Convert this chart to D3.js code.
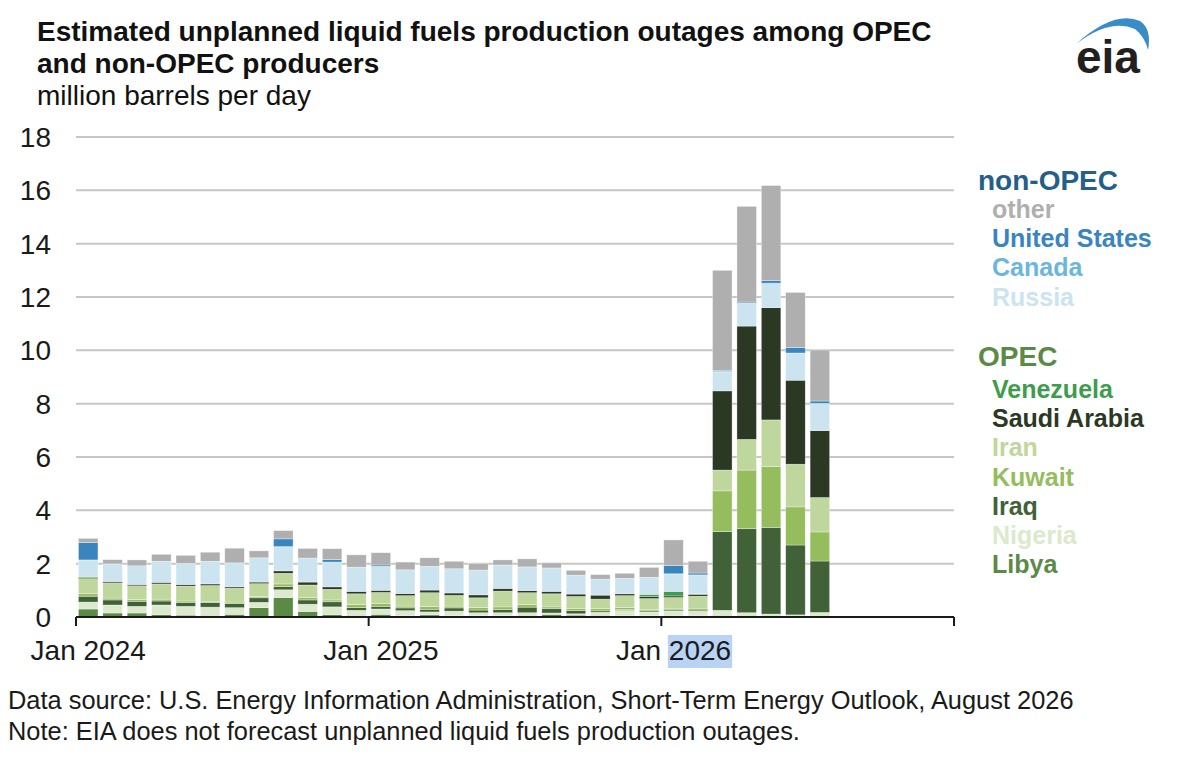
<!DOCTYPE html>
<html>
<head>
<meta charset="utf-8">
<script src="https://cdn.jsdelivr.net/npm/d3@7"></script>
<style>
  body { margin: 0; background: #fff; }
  svg { display: block; font-family: "Liberation Sans", Arial, Helvetica, sans-serif; }
</style>
</head>
<body>
<svg id="outageChart"></svg>
<script>
// monthly values, million barrels per day (Jan 2024 - Jul 2026)
const months = [
  "2024-01", "2024-02", "2024-03", "2024-04", "2024-05", "2024-06",
  "2024-07", "2024-08", "2024-09", "2024-10", "2024-11", "2024-12",
  "2025-01", "2025-02", "2025-03", "2025-04", "2025-05", "2025-06",
  "2025-07", "2025-08", "2025-09", "2025-10", "2025-11", "2025-12",
  "2026-01", "2026-02", "2026-03", "2026-04", "2026-05", "2026-06", "2026-07"
];

const libya = [0.30, 0.15, 0.15, 0.09, 0.07, 0.06, 0.10, 0.35, 0.73, 0.21, 0.09, 0.06,
  0.10, 0.05, 0.08, 0.05, 0.05, 0.05, 0.06, 0.10, 0.07, 0.06, 0.05, 0.05,
  0.04, 0.04, 0.06, 0.06, 0.06, 0.06, 0.02];
const nigeria = [0.26, 0.30, 0.25, 0.36, 0.33, 0.31, 0.25, 0.20, 0.29, 0.27, 0.29, 0.19,
  0.20, 0.19, 0.11, 0.17, 0.11, 0.11, 0.10, 0.05, 0.05, 0.12, 0.20, 0.14,
  0.19, 0.18, 0.19, 0.10, 0.05, 0.02, 0.15];
const iraq = [0.22, 0.19, 0.19, 0.15, 0.15, 0.17, 0.15, 0.17, 0.12, 0.16, 0.19, 0.10,
  0.10, 0.10, 0.10, 0.12, 0.10, 0.12, 0.21, 0.16, 0.12, 0.05, 0.03, 0.04,
  0.04, 0.04, 2.95, 3.15, 3.25, 2.62, 1.93];
const kuwait = [0.09, 0.07, 0.06, 0.07, 0.05, 0.05, 0.06, 0.04, 0.10, 0.09, 0.07, 0.11,
  0.10, 0.07, 0.10, 0.07, 0.10, 0.10, 0.09, 0.07, 0.07, 0.09, 0.07, 0.06,
  0.06, 0.07, 1.53, 2.20, 2.28, 1.43, 1.09];
const iran = [0.57, 0.57, 0.52, 0.57, 0.56, 0.59, 0.52, 0.49, 0.40, 0.47, 0.40, 0.41,
  0.42, 0.39, 0.52, 0.40, 0.36, 0.59, 0.45, 0.49, 0.46, 0.35, 0.45, 0.40,
  0.40, 0.45, 0.78, 1.15, 1.75, 1.60, 1.29];
const saudiArabia = [0.04, 0.05, 0.05, 0.06, 0.06, 0.06, 0.05, 0.06, 0.09, 0.11, 0.09, 0.09,
  0.08, 0.08, 0.10, 0.09, 0.11, 0.10, 0.08, 0.09, 0.09, 0.15, 0.07, 0.08,
  0.06, 0.07, 2.97, 4.25, 4.21, 3.15, 2.51];
const venezuela = [0.04, 0, 0, 0, 0, 0, 0, 0, 0, 0, 0, 0,
  0, 0, 0, 0, 0, 0, 0, 0, 0, 0, 0, 0.08,
  0.17, 0.02, 0, 0, 0, 0, 0];
const russia = [0.61, 0.66, 0.70, 0.79, 0.79, 0.85, 0.90, 0.91, 0.90, 0.90, 0.93, 0.91,
  0.90, 0.89, 0.89, 0.91, 0.93, 0.88, 0.89, 0.88, 0.71, 0.60, 0.58, 0.64,
  0.65, 0.71, 0.71, 0.85, 0.90, 1.01, 1.01];
const canada = [0.01, 0, 0, 0, 0, 0, 0, 0, 0.01, 0, 0, 0,
  0, 0, 0, 0, 0, 0, 0, 0, 0, 0, 0, 0,
  0.01, 0, 0.02, 0.01, 0.02, 0.01, 0.01];
const unitedStates = [0.65, 0, 0, 0, 0, 0, 0, 0, 0.29, 0, 0.09, 0,
  0.05, 0, 0, 0, 0, 0, 0, 0, 0, 0, 0, 0,
  0.31, 0.07, 0.04, 0.04, 0.10, 0.20, 0.09];
const other = [0.16, 0.16, 0.22, 0.26, 0.30, 0.34, 0.55, 0.26, 0.31, 0.36, 0.41, 0.46,
  0.46, 0.29, 0.32, 0.28, 0.24, 0.19, 0.30, 0.19, 0.18, 0.17, 0.19, 0.37,
  0.96, 0.44, 3.75, 3.59, 3.56, 2.07, 1.91];

const yTicks = [0, 2, 4, 6, 8, 10, 12, 14, 16, 18];
const xTickLabels = [["2024-01", "Jan 2024"], ["2025-01", "Jan 2025"], ["2026-01", "Jan 2026"]];

// bottom to top
const seriesKeys = ["libya", "nigeria", "iraq", "kuwait", "iran", "saudiArabia",
  "venezuela", "russia", "canada", "unitedStates", "other"];
const seriesValues = { libya, nigeria, iraq, kuwait, iran, saudiArabia,
  venezuela, russia, canada, unitedStates, other };
const colors = {
  libya: "#5b8a47", nigeria: "#dce9cc", iraq: "#416238", kuwait: "#95bd5d",
  iran: "#bfd69d", saudiArabia: "#2b3824", venezuela: "#3d9d4c",
  russia: "#cce4ef", canada: "#6cb6de", unitedStates: "#3985bf", other: "#afafaf"
};

const nonOpecLegend = [["other", "other"], ["unitedStates", "United States"],
  ["canada", "Canada"], ["russia", "Russia"]];
const opecLegend = [["venezuela", "Venezuela"], ["saudiArabia", "Saudi Arabia"],
  ["iran", "Iran"], ["kuwait", "Kuwait"], ["iraq", "Iraq"],
  ["nigeria", "Nigeria"], ["libya", "Libya"]];

function getChartConfig() {
  const dimensions = {
    width: 1178,
    height: 760,
    margin: { top: 137, bottom: 143, left: 76, right: 224 }
  };
  const chart = d3.select("#outageChart")
    .attr("width", dimensions.width)
    .attr("height", dimensions.height);
  return {
    dimensions,
    container: chart,
    plotWidth: dimensions.width - dimensions.margin.left - dimensions.margin.right,
    plotHeight: dimensions.height - dimensions.margin.top - dimensions.margin.bottom
  };
}

function getScales(config) {
  const { margin, width, height } = config.dimensions;
  // axis spans Jan 2024 through Dec 2026
  const axisMonths = d3.timeMonth
    .range(new Date(2024, 0, 1), new Date(2027, 0, 1))
    .map(d3.timeFormat("%Y-%m"));
  const xScale = d3.scaleBand()
    .domain(axisMonths)
    .range([margin.left, width - margin.right])
    .paddingInner(0.2)
    .paddingOuter(0.1);
  const yScale = d3.scaleLinear()
    .domain([0, 18])
    .range([height - margin.bottom, margin.top]);
  return { xScale, yScale, axisMonths };
}

function drawGrid(config, scales) {
  const { xScale, yScale } = scales;
  const [x0, x1] = xScale.range();
  config.container.append("g")
    .selectAll("line")
    .data(yTicks.filter(d => d > 0))
    .join("line")
    .attr("x1", x0)
    .attr("x2", x1)
    .attr("y1", d => yScale(d))
    .attr("y2", d => yScale(d))
    .attr("stroke", "#c6c6c6")
    .attr("stroke-width", 2);

  config.container.append("g")
    .selectAll("text")
    .data(yTicks)
    .join("text")
    .attr("x", 51)
    .attr("y", d => yScale(d))
    .attr("dy", "0.36em")
    .attr("text-anchor", "end")
    .attr("font-size", 28)
    .attr("fill", "#1a1a1a")
    .text(d => d);
}

function drawBars(config, scales) {
  const { xScale, yScale } = scales;
  const rows = months.map((m, i) => {
    const row = { month: m };
    seriesKeys.forEach(k => { row[k] = seriesValues[k][i]; });
    return row;
  });
  const stacked = d3.stack().keys(seriesKeys)(rows);

  config.container.append("g")
    .selectAll("g")
    .data(stacked)
    .join("g")
    .attr("fill", d => colors[d.key])
    .selectAll("rect")
    .data(d => d.filter(p => p[1] - p[0] > 0))
    .join("rect")
    .attr("x", d => xScale(d.data.month))
    .attr("width", xScale.bandwidth())
    .attr("y", d => yScale(d[1]))
    .attr("height", d => yScale(d[0]) - yScale(d[1]))
    .attr("stroke", "#ffffff")
    .attr("stroke-opacity", 0.55)
    .attr("stroke-width", 0.6);
}

function drawXAxis(config, scales) {
  const { xScale, yScale, axisMonths } = scales;
  const y0 = yScale(0);
  const step = xScale.step();
  const [x0, x1] = xScale.range();
  const g = config.container.append("g");

  g.append("line")
    .attr("x1", x0).attr("x2", x1)
    .attr("y1", y0).attr("y2", y0)
    .attr("stroke", "#1a1a1a")
    .attr("stroke-width", 2);

  // year boundary ticks
  const tickX = [0, 12, 24, 36].map(i => x0 + i * step);
  g.selectAll(".tick")
    .data(tickX)
    .join("line")
    .attr("x1", d => d).attr("x2", d => d)
    .attr("y1", y0).attr("y2", y0 + 9)
    .attr("stroke", "#1a1a1a")
    .attr("stroke-width", 2);

  const labels = g.selectAll(".xlabel")
    .data(xTickLabels)
    .join("text")
    .attr("x", d => xScale(d[0]) + xScale.bandwidth() / 2)
    .attr("y", y0 + 43)
    .attr("text-anchor", "middle")
    .attr("font-size", 28)
    .attr("fill", "#1a1a1a")
    .text(d => d[1]);

  // selection highlight behind "2026" as in the source image
  const last = labels.nodes()[2];
  const sx = last.getStartPositionOfChar(4).x;
  const sw = last.getSubStringLength(4, 4);
  g.insert("rect", "text")
    .attr("x", sx - 1)
    .attr("y", y0 + 18)
    .attr("width", sw + 2)
    .attr("height", 33)
    .attr("fill", "#b9d3f5");
}

function drawLegend(config) {
  const g = config.container.append("g");
  const x0 = 978;
  const entryGap = 29.2;

  g.append("text")
    .attr("x", x0).attr("y", 190)
    .attr("font-size", 28).attr("font-weight", "bold")
    .attr("fill", "#245f8a")
    .text("non-OPEC");
  g.selectAll(".nonopec")
    .data(nonOpecLegend)
    .join("text")
    .attr("x", x0 + 14)
    .attr("y", (d, i) => 218 + i * entryGap)
    .attr("font-size", 25).attr("font-weight", "bold")
    .attr("fill", d => colors[d[0]])
    .text(d => d[1]);

  g.append("text")
    .attr("x", x0).attr("y", 366)
    .attr("font-size", 28).attr("font-weight", "bold")
    .attr("fill", "#5b8a47")
    .text("OPEC");
  g.selectAll(".opec")
    .data(opecLegend)
    .join("text")
    .attr("x", x0 + 14)
    .attr("y", (d, i) => 398 + i * entryGap)
    .attr("font-size", 25).attr("font-weight", "bold")
    .attr("fill", d => colors[d[0]])
    .text(d => d[1]);
}

function drawTitles(config) {
  const c = config.container;
  c.append("text").attr("x", 37).attr("y", 41)
    .attr("font-size", 28).attr("font-weight", "bold").attr("fill", "#111")
    .text("Estimated unplanned liquid fuels production outages among OPEC");
  c.append("text").attr("x", 37).attr("y", 73)
    .attr("font-size", 28).attr("font-weight", "bold").attr("fill", "#111")
    .text("and non-OPEC producers");
  c.append("text").attr("x", 37).attr("y", 105)
    .attr("font-size", 28).attr("fill", "#111")
    .text("million barrels per day");

  c.append("text").attr("x", 8).attr("y", 709)
    .attr("font-size", 25.4).attr("fill", "#1a1a1a")
    .text("Data source: U.S. Energy Information Administration, Short-Term Energy Outlook, August 2026");
  c.append("text").attr("x", 8).attr("y", 740)
    .attr("font-size", 25.4).attr("fill", "#1a1a1a")
    .text("Note: EIA does not forecast unplanned liquid fuels production outages.");

  // eia logo
  c.append("path")
    .attr("d", "M1076,44 Q1114,10 1140,21 Q1152,29 1148,50 Q1145,37 1135,29 Q1110,18 1076,44 Z")
    .attr("fill", "#3a8cc8");
  c.append("text").attr("x", 1076).attr("y", 73)
    .attr("font-size", 46).attr("font-weight", "bold").attr("fill", "#231f20")
    .text("eia");
}

function renderChart() {
  const config = getChartConfig();
  const scales = getScales(config);
  drawGrid(config, scales);
  drawBars(config, scales);
  drawXAxis(config, scales);
  drawLegend(config);
  drawTitles(config);
}

renderChart();
</script>
</body>
</html>
